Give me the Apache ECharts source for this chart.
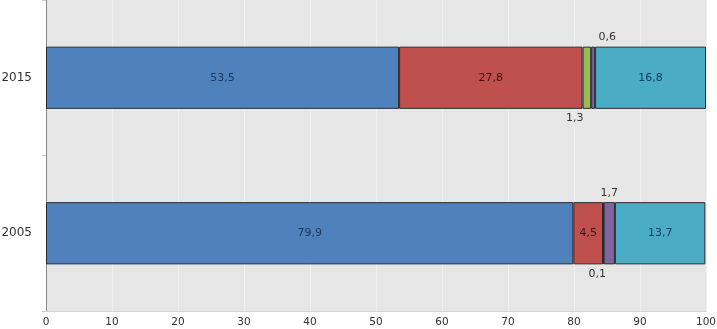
<!DOCTYPE html>
<html>
<head>
<meta charset="utf-8">
<script src="https://cdn.jsdelivr.net/npm/echarts@6/dist/echarts.min.js"></script>
<style>
  html, body { margin: 0; padding: 0; background: #ffffff; }
  #chart { width: 717px; height: 329px; }
</style>
</head>
<body>
<div id="chart"></div>
<script>
var years = ["2005", "2015"];
var seriesA = [79.9, 53.5];
var seriesB = [4.5, 27.8];
var seriesC = [0.1, 1.3];
var seriesD = [1.7, 0.6];
var seriesE = [13.7, 16.8];
var xTicks = [0, 10, 20, 30, 40, 50, 60, 70, 80, 90, 100];

var fontFamily = "DejaVu Sans";

function fmt(v) {
    return String(v).replace(".", ",");
}

var chart = echarts.init(document.getElementById("chart"));

function insideLabel(color) {
    return {
        show: true,
        position: "inside",
        color: color,
        fontFamily: fontFamily,
        fontSize: 11,
        formatter: function(p) { return fmt(p.value); }
    };
}

// small segments get their label outside the bar, above or below
function outsideData(values, places) {
    return values.map(function(v, i) {
        var pl = places[i];
        return {
            value: v,
            label: {
                show: true,
                position: pl.pos,
                distance: 4,
                offset: [pl.dx, 0],
                color: "#333333",
                fontFamily: fontFamily,
                fontSize: 11,
                formatter: function(p) { return fmt(p.value); }
            }
        };
    });
}

var border = { borderColor: "#2b2b2b", borderWidth: 1 };

function bar(name, data, color, label) {
    return {
        name: name,
        type: "bar",
        stack: "total",
        barWidth: "40%",
        data: data,
        itemStyle: Object.assign({ color: color }, border),
        label: label || { show: false }
    };
}

var option = {
    animation: false,
    backgroundColor: "#ffffff",
    grid: {
        left: 46,
        right: 11,
        top: 0,
        bottom: 18,
        outerBoundsMode: "none",
        show: true,
        backgroundColor: "#e6e6e6",
        borderWidth: 0
    },
    xAxis: {
        type: "value",
        min: 0,
        max: 100,
        interval: 10,
        axisLine: { show: true, lineStyle: { color: "#d4d4d4", width: 1 } },
        axisTick: { show: false },
        splitLine: { show: true, lineStyle: { color: "#efefef", width: 1 } },
        axisLabel: {
            color: "#333333",
            fontFamily: fontFamily,
            fontSize: 10.5,
            margin: 6,
            formatter: function(v) { return xTicks.indexOf(v) >= 0 ? String(v) : ""; }
        }
    },
    yAxis: {
        type: "category",
        data: years,
        axisLine: { show: true, lineStyle: { color: "#8a8a8a", width: 1 } },
        axisTick: { show: true, length: 4, lineStyle: { color: "#cccccc" } },
        axisLabel: {
            color: "#333333",
            fontFamily: fontFamily,
            fontSize: 12,
            margin: 14
        }
    },
    series: [
        bar("A", seriesA, "#4f81bd", insideLabel("#1f3a60")),
        bar("B", seriesB, "#c0504d", insideLabel("#3a1414")),
        bar("C", outsideData(seriesC, [{ pos: "bottom", dx: -6 }, { pos: "bottom", dx: -12 }]), "#9bbb59"),
        bar("D", outsideData(seriesD, [{ pos: "top", dx: 0 }, { pos: "top", dx: 14 }]), "#8064a2"),
        bar("E", seriesE, "#4bacc6", insideLabel("#17375e"))
    ]
};

chart.setOption(option);
</script>
</body>
</html>
